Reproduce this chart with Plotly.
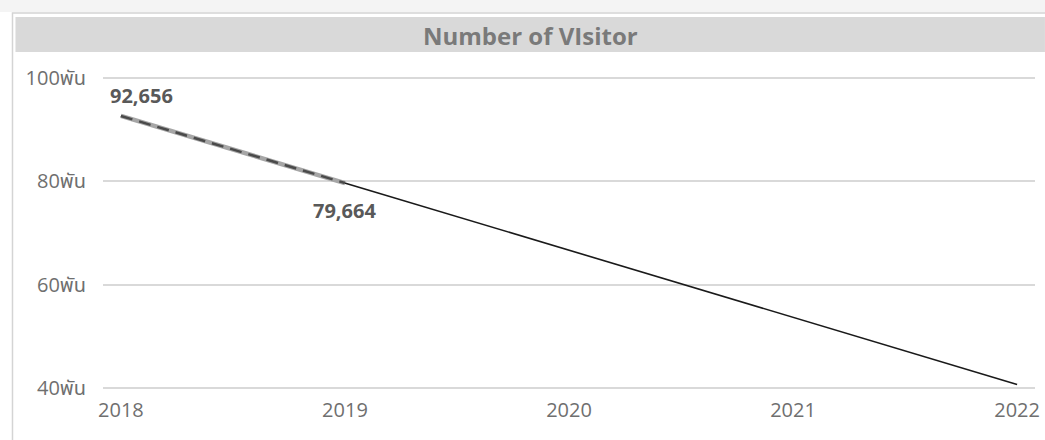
import plotly.graph_objects as go

# ---- data ----
years = [2018, 2019]
visitors = [92656, 79664]
trend_years = [2018, 2022]
trend_values = [92656, 40688]
x_ticks = [2018, 2019, 2020, 2021, 2022]
y_ticks = [40000, 60000, 80000, 100000]
y_tick_labels = ["40พัน", "60พัน", "80พัน", "100พัน"]
title_text = "Number of VIsitor"

W, H = 1045, 440
L, R, T, B = 103, 1040, 75, 391   # plot area incl. 3px padding beyond 100k / 40k gridlines
Y_TOP_PX, Y_BOT_PX = 78, 388

def px(x):
    return (x - L) / (R - L)

def py(y):
    return (B - y) / (B - T)

FONT = "Open Sans, Noto Sans Thai, Noto Sans, sans-serif"

fig = go.Figure()
fig.add_trace(go.Scatter(x=trend_years, y=trend_values, mode="lines",
                         line=dict(color="#1a1a1a", width=1.6), hoverinfo="skip",
                         showlegend=False))
fig.add_trace(go.Scatter(x=years, y=visitors, mode="lines",
                         line=dict(color="#a6a6a6", width=4.5),
                         showlegend=False))
fig.add_trace(go.Scatter(x=years, y=visitors, mode="lines",
                         line=dict(color="#4a4a4a", width=2.5, dash="12px,7px"),
                         hoverinfo="skip", showlegend=False))

# data labels
fig.add_annotation(x=years[0], y=visitors[0], text=f"<b>{visitors[0]:,}</b>",
                   showarrow=False, xshift=21, yshift=20,
                   font=dict(family=FONT, size=20, color="#595959"))
fig.add_annotation(x=years[1], y=visitors[1], text=f"<b>{visitors[1]:,}</b>",
                   showarrow=False, xshift=0, yshift=-27,
                   font=dict(family=FONT, size=20, color="#595959"))

shapes = [
    dict(type="rect", xref="paper", yref="paper", x0=px(-5), x1=px(1050), y0=py(12), y1=py(-5),
         fillcolor="#f4f4f4", line=dict(width=0), layer="below"),
    dict(type="rect", xref="paper", yref="paper", x0=px(12), x1=px(1052), y0=py(445), y1=py(13),
         fillcolor="white", line=dict(color="#d4d4d4", width=1.5), layer="below"),
    dict(type="rect", xref="paper", yref="paper", x0=px(15), x1=px(1050), y0=py(52), y1=py(17),
         fillcolor="#d9d9d9", line=dict(width=0), layer="below"),
]

fig.add_annotation(xref="paper", yref="paper", x=px(533), y=py(35), text=f"<b>{title_text}</b>",
                   showarrow=False, xanchor="center", yanchor="middle",
                   font=dict(family=FONT, size=24, color="#7a7a7a"))

xpad = 18 / ((R - L - 36) / 4)
per_px = (y_ticks[-1] - y_ticks[0]) / (Y_BOT_PX - Y_TOP_PX)
y_range = [y_ticks[0] - (B - Y_BOT_PX) * per_px, y_ticks[-1] + (Y_TOP_PX - T) * per_px]

fig.update_layout(
    width=W, height=H,
    margin=dict(l=L, r=W - R, t=T, b=H - B, pad=0),
    paper_bgcolor="white", plot_bgcolor="rgba(0,0,0,0)",
    shapes=shapes,
    xaxis=dict(range=[2018 - xpad, 2022 + xpad], tickvals=x_ticks, ticktext=[str(v) for v in x_ticks],
               showgrid=False, zeroline=False, showline=False, ticks="",
               ticklabelstandoff=5,
               tickfont=dict(family=FONT, size=20, color="#6f6f6f")),
    yaxis=dict(range=y_range, tickvals=y_ticks, ticktext=y_tick_labels,
               showgrid=True, gridcolor="#d9d9d9", gridwidth=1.5, zeroline=False, showline=False,
               ticks="", ticklabelstandoff=16,
               tickfont=dict(family=FONT, size=20, color="#6f6f6f")),
)

fig.write_html("out.html", config={"displayModeBar": False},
               post_script="document.body.style.margin='0';document.body.style.overflow='hidden';")
